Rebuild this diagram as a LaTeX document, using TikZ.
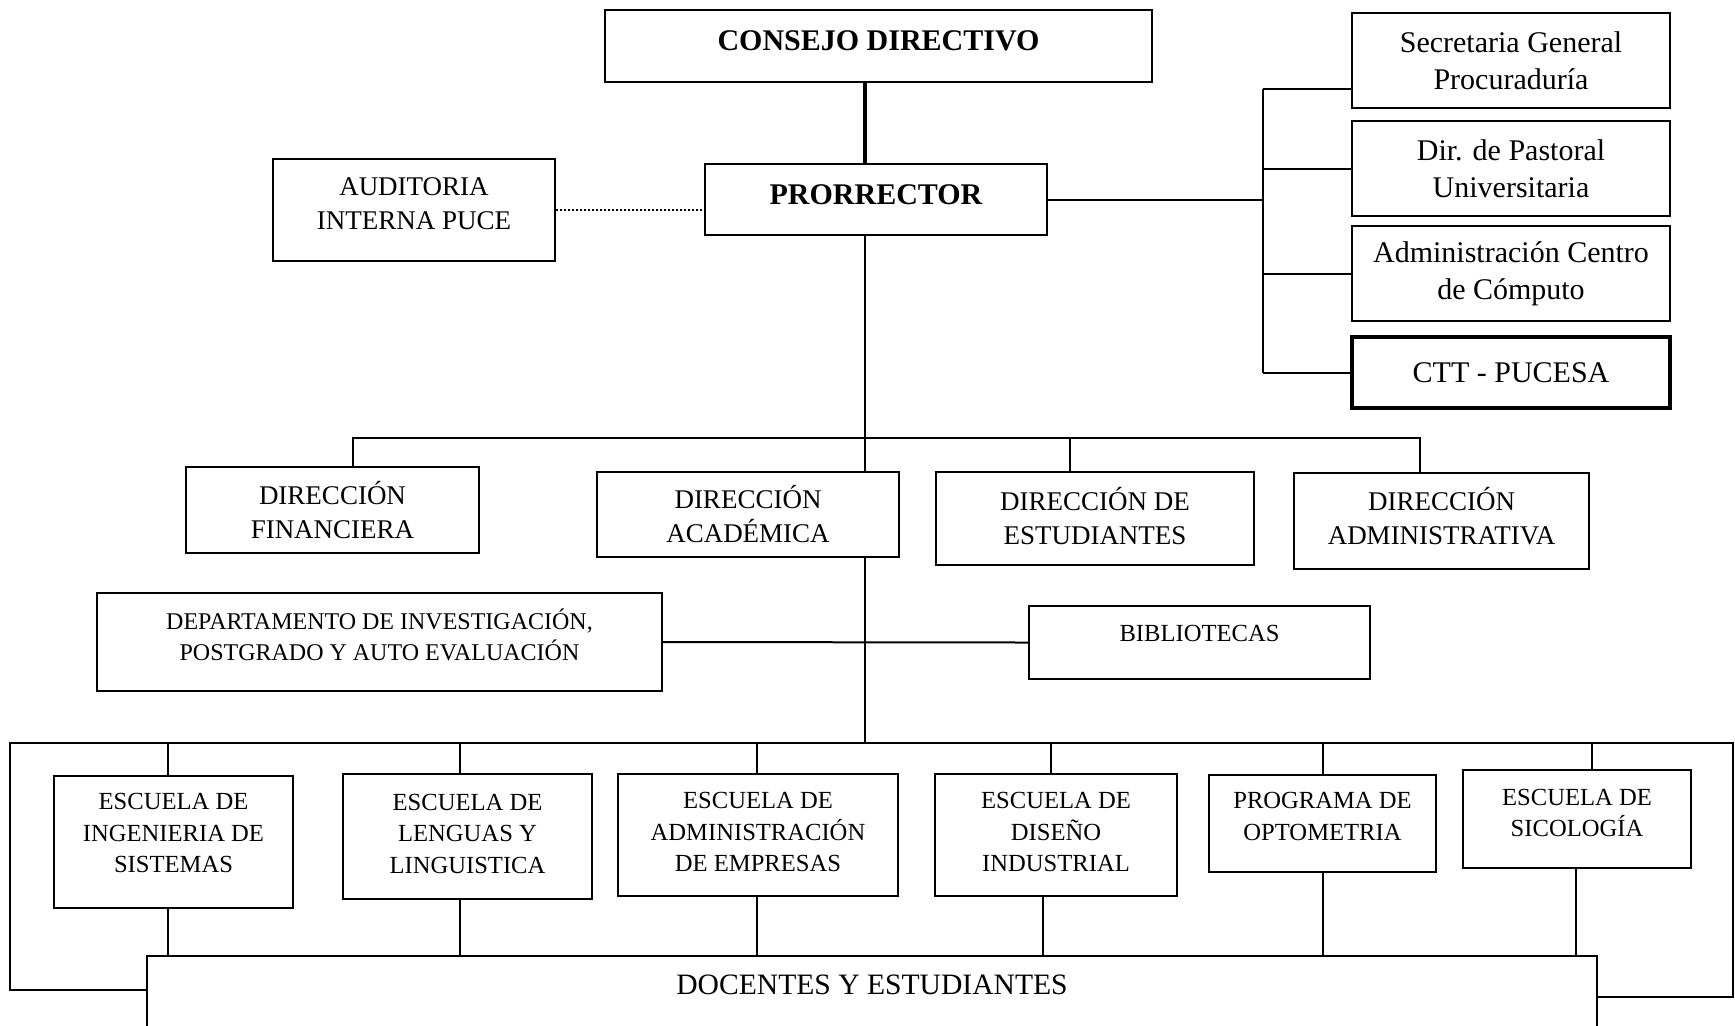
\documentclass[tikz,border=0pt]{standalone}
\usepackage{fontspec}
\setmainfont{Liberation Serif}
\usetikzlibrary{calc}

\tikzset{
  boxsize/.style 2 args={minimum width=#1*0.5pt, minimum height=#2*0.5pt},
  orgbox/.style={draw, line width=1pt, align=center, inner sep=1pt},
  lift/.style={text depth=#1},
  bigbold/.style={font=\fontsize{15}{18.4}\selectfont\bfseries},
  bigfont/.style={font=\fontsize{15}{18.4}\selectfont},
  midfont/.style={font=\fontsize{13.5}{17}\selectfont},
  smallfont/.style={font=\fontsize{12.3}{15.7}\selectfont},
  link/.style={line width=1pt},
}

\begin{document}
\begin{tikzpicture}[x=0.5pt, y=-0.5pt]
  \useasboundingbox (0,0) rectangle (1735,1025);
  \clip (0,0) rectangle (1735,1025);

  % top of the chart
  \node[orgbox, bigbold, boxsize={547}{72}, lift=5pt] (consejo) at (878.5,46) {CONSEJO DIRECTIVO};
  \node[orgbox, bigbold, boxsize={342}{71}, lift=4.5pt] (prorr) at (876,199.5) {PRORRECTOR};
  \node[orgbox, midfont, boxsize={282}{102}, lift=6pt] (audit) at (414,210) {AUDITORIA\\INTERNA PUCE};

  % staff units
  \node[orgbox, bigfont, boxsize={318}{95}] (sec) at (1511,60.5) {Secretaria General\\Procuraduría};
  \node[orgbox, bigfont, boxsize={318}{95}] (past) at (1511,168.5) {Dir. de Pastoral\\Universitaria};
  \node[orgbox, bigfont, boxsize={318}{95}] (admc) at (1511,273.5) {Administración Centro\\de Cómputo};
  \node[orgbox, bigfont, boxsize={318}{71}, line width=2pt] (ctt) at (1511,372.5) {CTT - PUCESA};

  % directions
  \node[orgbox, midfont, boxsize={293}{86}] (fin) at (332.5,510) {DIRECCIÓN\\FINANCIERA};
  \node[orgbox, midfont, boxsize={302}{85}] (acad) at (748,514.5) {DIRECCIÓN\\ACADÉMICA};
  \node[orgbox, midfont, boxsize={318}{93}, lift=3pt] (est) at (1095,518.5) {DIRECCIÓN DE\\ESTUDIANTES};
  \node[orgbox, midfont, boxsize={295}{96}, lift=5pt] (adm) at (1441.5,521) {DIRECCIÓN\\ADMINISTRATIVA};

  \node[orgbox, font=\fontsize{12}{15.5}\selectfont, boxsize={565}{98}, lift=7pt] (dep) at (379.5,642) {DEPARTAMENTO DE INVESTIGACIÓN,\\POSTGRADO Y AUTO EVALUACIÓN};
  \node[orgbox, smallfont, boxsize={341}{73}, lift=9pt] (bib) at (1199.5,642.5) {BIBLIOTECAS};

  % schools
  \node[orgbox, smallfont, boxsize={239}{132}, lift=9pt] (ing) at (173.5,842) {ESCUELA DE\\INGENIERIA DE\\SISTEMAS};
  \node[orgbox, smallfont, boxsize={249}{125}, lift=3pt] (len) at (467.5,836.5) {ESCUELA DE\\LENGUAS Y\\LINGUISTICA};
  \node[orgbox, smallfont, boxsize={280}{122}, lift=3pt] (emp) at (758,835) {ESCUELA DE\\ADMINISTRACIÓN\\DE EMPRESAS};
  \node[orgbox, smallfont, boxsize={242}{122}, lift=3pt] (dis) at (1056,835) {ESCUELA DE\\DISEÑO\\INDUSTRIAL};
  \node[orgbox, smallfont, boxsize={227}{97}, lift=7pt] (opt) at (1322.5,823.5) {PROGRAMA DE\\OPTOMETRIA};
  \node[orgbox, smallfont, boxsize={228}{98}, lift=6pt] (sic) at (1577,819) {ESCUELA DE\\SICOLOGÍA};

  \node[font=\fontsize{14.8}{17}\selectfont, boxsize={1450}{56}, anchor=north] (doc) at (872,956) {DOCENTES Y ESTUDIANTES};
  \draw[link] ($(doc.north west)+(0,90)$) -- (doc.north west) -- (doc.north east) -- ($(doc.north east)+(0,90)$);

  % connectors
  \coordinate (spine) at (865,0);
  \coordinate (rbus) at (1263,0);
  \coordinate (dbus) at (0,438);
  \coordinate (sbus) at (0,743);
  \coordinate (loopl) at (10,743);
  \coordinate (loopr) at (1733,743);

  \draw[line width=2pt] (consejo.south -| spine) -- (prorr.north -| spine);
  \draw[link] (prorr.south -| spine) -- (acad.north -| spine);
  \draw[link] (acad.south -| spine) -- (sbus -| spine);
  \draw[line width=0.7pt, dash pattern=on 0.8pt off 1.2pt] (audit.east) -- (audit.east -| prorr.west);

  \coordinate (secin) at ($(sec.north west)!0.79!(sec.south west)$);
  \draw[link] (prorr.east) -- (prorr.east -| rbus);
  \draw[link] (secin -| rbus) -- (ctt.west -| rbus);
  \draw[link] (secin -| rbus) -- (secin);
  \foreach \b in {past, admc, ctt}
    \draw[link] (\b.west -| rbus) -- (\b.west);

  \draw[link] ($(fin.north)+(20,0)$) -- ($(fin.north |- dbus)+(20,0)$) -| ($(adm.north)+(-21.5,0)$);
  \draw[link] ($(est.north)+(-25,0)$) -- ($(est.north |- dbus)+(-25,0)$);

  \draw[link] (dep.east) -- (bib.west);

  \draw[link] ($(doc.north west)+(0,34)$) -| (loopl) -- (loopr) |- ($(doc.north east)+(0,41)$);
  \foreach \s/\up/\dn in {ing/-5.5/-5.5, len/-7.5/-7.5, emp/-1/-1, dis/-5/-13, opt/0/0, sic/15/-1} {
    \draw[link] ($(\s.north)+(\up,0)$) -- ($(\s.north |- sbus)+(\up,0)$);
    \draw[link] ($(\s.south)+(\dn,0)$) -- ($(\s.south |- doc.north)+(\dn,0)$);
  }
\end{tikzpicture}
\end{document}
